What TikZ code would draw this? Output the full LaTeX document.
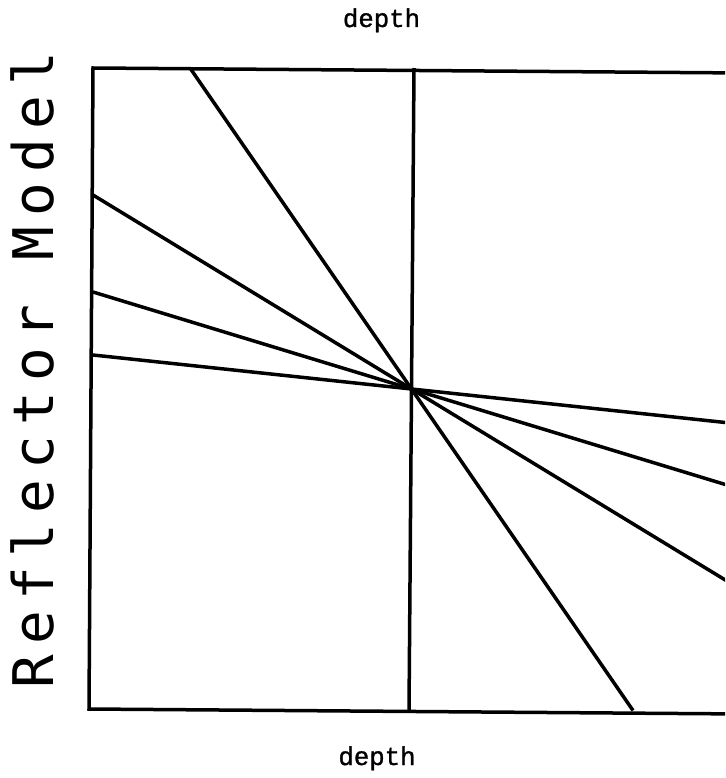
\documentclass[tikz,border=0pt]{standalone}
\usepackage{fontspec}
\newfontfamily\plotfont[LetterSpace=18]{DejaVu Sans Mono}
\newfontfamily\typefont[FakeBold=1.2]{Liberation Mono}
\begin{document}
\begin{tikzpicture}[x=1pt,y=-1pt,
  frame/.style={line width=3.5pt, line join=miter},
  ray/.style={line width=3.5pt, line cap=butt},
  axislabel/.style={inner sep=0pt, anchor=base, font=\typefont\fontsize{25.7}{28}\selectfont},
  titlelabel/.style={inner sep=0pt, anchor=base, rotate=90, font=\plotfont\fontsize{56}{60}\selectfont}]
\useasboundingbox (0,0) rectangle (725,778);
\clip (0,0) rectangle (725,778);
% frame corners
\coordinate (TL) at (93,68);
\coordinate (TR) at (745,73);
\coordinate (BL) at (89,709);
\coordinate (BR) at (745,714);
% centre point
\coordinate (C) at (411.5,389);
% vertical line ends
\coordinate (VT) at (414,68);
\coordinate (VB) at (409,710);
% ray ends
\coordinate (A1) at (190,68);
\coordinate (B1) at (633,710.5);
\coordinate (A2) at (93,195);
\coordinate (B2) at (745,592);
\coordinate (A3) at (93,292);
\coordinate (B3) at (745,490.5);
\coordinate (A4) at (93,355);
\coordinate (B4) at (745,424.6);
\draw[frame] (TR) -- (TL) -- (BL) -- (BR);
\draw[ray] (VT) -- (VB);
\draw[ray] (A1) -- (C) -- (B1);
\draw[ray] (A2) -- (C) -- (B2);
\draw[ray] (A3) -- (C) -- (B3);
\draw[ray] (A4) -- (C) -- (B4);
\node[axislabel] (toplab) at (381.5,27) {depth};
\node[axislabel] (botlab) at (377,765) {depth};
\node[titlelabel] (ylab) at (53,370) {Reflector Model};
\end{tikzpicture}
\end{document}
